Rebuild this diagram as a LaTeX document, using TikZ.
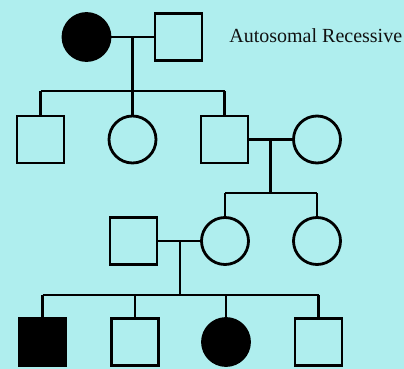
\documentclass[tikz,border=0pt]{standalone}
\usepackage{fontspec}
\setmainfont{Liberation Serif}
\definecolor{bgcyan}{RGB}{175,238,238}
\definecolor{inkdark}{RGB}{17,17,17}
\begin{document}
\begin{tikzpicture}[x=1pt,y=-1pt,
  line width=2.8pt,
  male/.style={draw=black,rectangle,minimum size=47pt,inner sep=0pt,outer sep=0pt},
  female/.style={draw=black,circle,minimum size=47pt,inner sep=0pt,outer sep=0pt},
  affected/.style={fill=black},
  link/.style={draw=black,line width=2.8pt}]
\fill[bgcyan] (0,0) rectangle (404,369);
\useasboundingbox (0,0) rectangle (404,369);

% generation I
\node[female,affected] (g1f) at (86.5,37) {};
\node[male] (g1m) at (178.5,37) {};
\node[anchor=base west,font=\fontsize{20}{24}\selectfont,text=inkdark,inner sep=0pt] (title) at (228,42.3) {Autosomal Recessive};
\coordinate (g1mid) at (132.5,37);
\coordinate (g1sib) at (132.5,91);
\draw[link] (g1f.east) -- (g1m.west);
\draw[link] (g1mid) -- (g1sib);

% generation II
\node[male] (g2a) at (40.5,139.5) {};
\node[female] (g2b) at (132.5,139.5) {};
\node[male] (g2c) at (224.5,139.5) {};
\node[female] (g2d) at (317,139.5) {};
\draw[link] (g2a.north |- g1sib) -- (g2c.north |- g1sib);
\foreach \c in {g2a,g2b,g2c} \draw[link] (\c.north) -- (\c.north |- g1sib);
\coordinate (g2mid) at (270.7,139.5);
\coordinate (g2sib) at (270.7,193);
\draw[link] (g2c.east) -- (g2d.west);
\draw[link] (g2mid) -- (g2sib);

% generation III
\node[male] (g3a) at (133.5,241) {};
\node[female] (g3b) at (225,241) {};
\node[female] (g3c) at (317,241) {};
\draw[link] (g3b.north |- g2sib) -- (g3c.north |- g2sib);
\foreach \c in {g3b,g3c} \draw[link] (\c.north) -- (\c.north |- g2sib);
\coordinate (g3mid) at (180,241);
\coordinate (g3sib) at (180,295);
\draw[link] (g3a.east) -- (g3b.west);
\draw[link] (g3mid) -- (g3sib);

% generation IV
\node[male,affected] (g4a) at (42.5,342) {};
\node[male] (g4b) at (135,342) {};
\node[female,affected] (g4c) at (226,342) {};
\node[male] (g4d) at (318.5,342) {};
\draw[link] (g4a.north |- g3sib) -- (g4d.north |- g3sib);
\foreach \c in {g4a,g4b,g4c,g4d} \draw[link] (\c.north) -- (\c.north |- g3sib);
\end{tikzpicture}
\end{document}
